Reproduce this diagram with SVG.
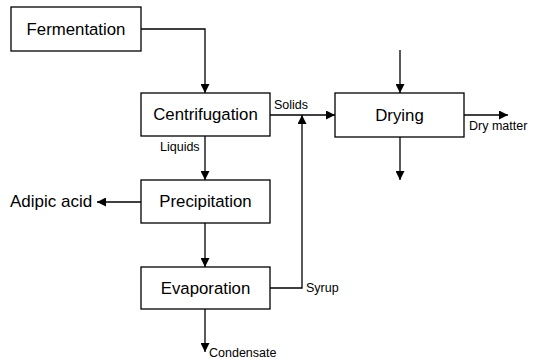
<svg xmlns="http://www.w3.org/2000/svg" width="533" height="359" viewBox="0 0 533 359">
  <style>
    .box { fill: #fff; stroke: #000; stroke-width: 1.3; }
    .lbl { font-family: "Liberation Sans", Arial, sans-serif; font-size: 16.8px; fill: #000; text-anchor: middle; }
    .side { font-family: "Liberation Sans", Arial, sans-serif; font-size: 17px; fill: #000; }
    .small { font-family: "Liberation Sans", Arial, sans-serif; font-size: 12.5px; fill: #000; }
    .edge { fill: none; stroke: #000; stroke-width: 1.3; }
  </style>
  <defs>
    <marker id="arrow" viewBox="0 0 10 10" refX="10" refY="5" markerWidth="9" markerHeight="9" markerUnits="userSpaceOnUse" orient="auto">
      <path d="M0,0 L10,5 L0,10 Z" fill="#000"/>
    </marker>
  </defs>
  <rect width="533" height="359" fill="#fff"/>

  <g id="connectors">
    <polyline class="edge" points="141,29 205,29 205,93" marker-end="url(#arrow)"/>
    <line class="edge" x1="205" y1="136" x2="205" y2="180" marker-end="url(#arrow)"/>
    <line class="edge" x1="205" y1="223" x2="205" y2="267" marker-end="url(#arrow)"/>
    <line class="edge" x1="205" y1="309" x2="205" y2="352" marker-end="url(#arrow)"/>
    <line class="edge" x1="141" y1="202" x2="97" y2="202" marker-end="url(#arrow)"/>
    <line class="edge" x1="270" y1="115" x2="335" y2="115" marker-end="url(#arrow)"/>
    <polyline class="edge" points="270,288 302,288 302,115" marker-end="url(#arrow)"/>
    <line class="edge" x1="400" y1="50" x2="400" y2="93" marker-end="url(#arrow)"/>
    <line class="edge" x1="400" y1="137" x2="400" y2="180" marker-end="url(#arrow)"/>
    <line class="edge" x1="464" y1="115" x2="508" y2="115" marker-end="url(#arrow)"/>
    <text class="small" x="160" y="151">Liquids</text>
    <text class="small" x="274" y="109">Solids</text>
    <text class="small" x="306" y="292">Syrup</text>
    <text class="small" x="469" y="130">Dry matter</text>
    <text class="small" x="209" y="357">Condensate</text>
    <text class="side" x="10" y="207">Adipic acid</text>
  </g>

  <g id="fermentation">
    <rect class="box" x="11" y="7" width="130" height="44"/>
    <text class="lbl" x="76" y="35">Fermentation</text>
  </g>
  <g id="centrifugation">
    <rect class="box" x="141" y="93" width="129" height="43"/>
    <text class="lbl" x="205.5" y="120">Centrifugation</text>
  </g>
  <g id="precipitation">
    <rect class="box" x="141" y="180" width="129" height="43"/>
    <text class="lbl" x="205.5" y="207">Precipitation</text>
  </g>
  <g id="evaporation">
    <rect class="box" x="141" y="267" width="129" height="42"/>
    <text class="lbl" x="205.5" y="294">Evaporation</text>
  </g>
  <g id="drying">
    <rect class="box" x="335" y="93" width="129" height="44"/>
    <text class="lbl" x="399.5" y="121">Drying</text>
  </g>
</svg>
